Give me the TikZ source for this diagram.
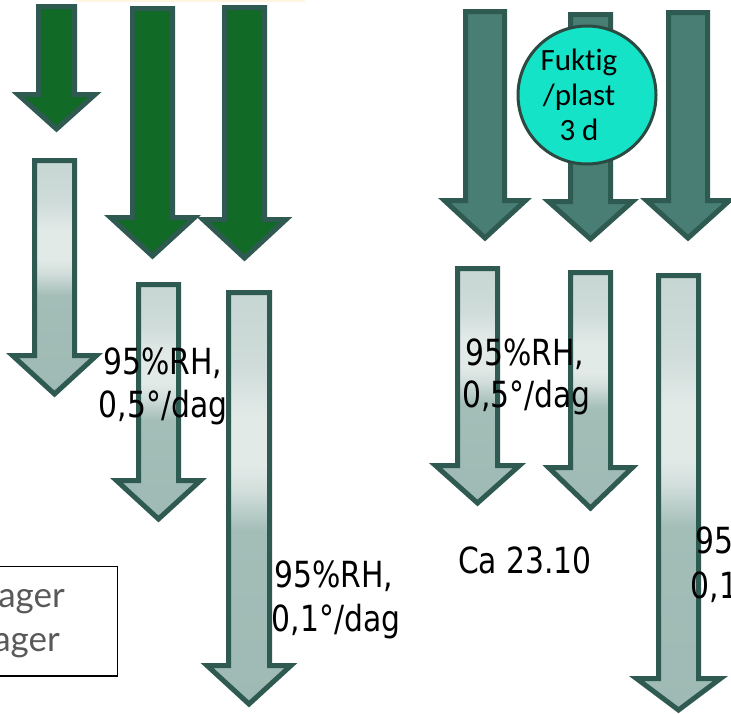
\documentclass[tikz,border=0pt]{standalone}
\usepackage{fontspec}
\newfontfamily\tfont[FakeStretch=0.92]{DejaVu Sans Condensed}
\newfontfamily\cfont[Ligatures=NoCommon]{Carlito}
\newfontfamily\lfont{Lato}
\definecolor{arrline}{HTML}{2F5A51}
\definecolor{dgreen}{HTML}{116A25}
\definecolor{teal1}{HTML}{487E73}
\definecolor{turq}{HTML}{15E3C8}
\definecolor{circline}{HTML}{2B4A42}
\definecolor{gT}{HTML}{C6D6D2}
\definecolor{gT2}{HTML}{CFDCD9}
\definecolor{gL}{HTML}{E2EAE8}
\definecolor{gM}{HTML}{D3DFDC}
\definecolor{gD2}{HTML}{A3BDB7}
\definecolor{gD}{HTML}{9FBAB4}
\definecolor{boxtext}{HTML}{595959}
\definecolor{strip}{HTML}{FFF6E2}
\pgfdeclareverticalshading{lightarr}{100bp}{color(0bp)=(gD); color(25bp)=(gD); color(46bp)=(gD2); color(51bp)=(gM); color(54bp)=(gL); color(60bp)=(gL); color(66bp)=(gT2); color(75bp)=(gT); color(100bp)=(gT)}
\newcommand\blockarrow[7]{\path[#1] (#2-#3,#5) -- (#2+#3,#5) -- (#2+#3,#6) -- (#2+#4,#6) -- (#2,#7) -- (#2-#4,#6) -- (#2-#3,#6) -- cycle;}
\tikzset{
  greenarr/.style={draw=arrline, fill=dgreen, line width=5pt},
  tealarr/.style={draw=arrline, fill=teal1, line width=5pt},
  lightarrow/.style={draw=arrline, shading=lightarr, line width=5pt},
  lbl/.style={font=\tfont\fontsize{36}{42}\selectfont, inner sep=0pt, anchor=base},
  boxlbl/.style={font=\lfont\fontsize{35}{40}\selectfont, text=boxtext, inner sep=0pt, anchor=base east},
}
\begin{document}
\begin{tikzpicture}[x=1pt,y=-1pt]
\useasboundingbox (0,0) rectangle (731,713);
\clip (0,0) rectangle (731,713);
% top strip
\fill[strip] (75,0) rectangle (305,1.6);
% dark green arrows
\blockarrow{greenarr}{56.5}{18}{38.5}{6.5}{94.5}{129}
\blockarrow{greenarr}{152.5}{20}{42}{8.5}{217.5}{256}
\blockarrow{greenarr}{244.5}{20}{41.5}{7.5}{219.5}{258}
% light left arrows
\blockarrow{lightarrow}{54.5}{20}{42}{160.5}{355.5}{394}
\blockarrow{lightarrow}{158.5}{20}{42}{284.5}{480.5}{519}
\blockarrow{lightarrow}{249}{20.5}{42}{292.5}{665.5}{704}
% teal arrows
\blockarrow{tealarr}{485}{19.5}{40.5}{11.5}{200.5}{238}
\blockarrow{tealarr}{590.5}{20}{42}{14.5}{201.5}{239}
\blockarrow{tealarr}{688}{19.5}{41.5}{12.5}{200.5}{238}
% light right arrows
\blockarrow{lightarrow}{477.5}{20}{42}{268.5}{465.5}{503}
\blockarrow{lightarrow}{590.5}{20}{42}{272.5}{467.5}{508}
\blockarrow{lightarrow}{678.5}{20}{42}{275.5}{678.5}{710}
% circle
\node (circ) [circle, draw=circline, fill=turq, line width=3pt, minimum size=138pt, inner sep=0pt] at (587,95) {};
\node (circtext) [align=center, inner sep=0pt, font=\cfont\fontsize{31}{35}\selectfont]
  at ([xshift=-8pt]circ.center) {Fuktig\\/plast\\3 d};
% labels
\node (t1a) [lbl] at (163,374) {95\%RH,};
\node (t1b) [lbl] at (163,417) {0,5°/dag};
\node (t2a) [lbl] at (334,587) {95\%RH,};
\node (t2b) [lbl] at (336,631) {0,1°/dag};
\node (t3a) [lbl] at (525,365) {95\%RH,};
\node (t3b) [lbl] at (526.5,407) {0,5°/dag};
\node (t4) [lbl] at (525,573) {Ca 23.10};
\node (t5a) [lbl] at (755,553) {95\%RH,};
\node (t5b) [lbl] at (755,598) {0,1°/dag};
% box
\draw[line width=1.5pt] (-5,566.5) rectangle (117.5,676);
\node (b1) [boxlbl] at (65,607) {ager};
\node (b2) [boxlbl] at (60,651) {ager};
\end{tikzpicture}
\end{document}
